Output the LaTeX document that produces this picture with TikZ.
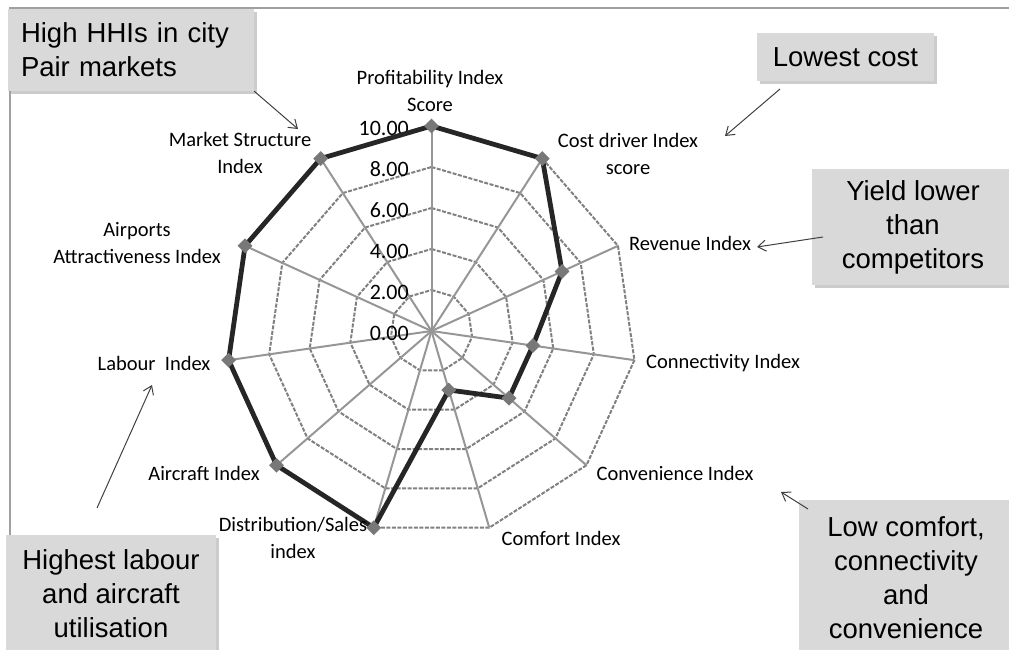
\documentclass[tikz,border=0pt]{standalone}
\usepackage{fontspec}
\setmainfont{Carlito}
\newfontfamily\arialf{Liberation Sans}
\usetikzlibrary{shapes.geometric,arrows.meta,shadows}
\definecolor{boxgray}{RGB}{217,217,217}
\definecolor{ringgray}{RGB}{128,128,128}
\definecolor{spokegray}{RGB}{150,150,150}
\definecolor{datadark}{RGB}{38,38,38}
\definecolor{markgray}{RGB}{120,120,120}
\definecolor{framegray}{RGB}{160,160,160}
\definecolor{arrowgray}{RGB}{64,64,64}
\begin{document}
\begin{tikzpicture}[x=1pt,y=-1pt,
  ringline/.style={draw=ringgray, line width=2pt, dash pattern=on 4pt off 1.5pt},
  spokeline/.style={draw=spokegray, line width=2pt},
  dataline/.style={draw=datadark, line width=4.8pt, line join=round},
  datamark/.style={diamond, fill=markgray, minimum size=15pt, inner sep=0pt},
  axlabel/.style={font=\fontsize{20.5}{27}\selectfont, align=center, inner sep=0pt},
  scalelabel/.style={font=\fontsize{22}{24}\selectfont, anchor=east, inner sep=0pt},
  callout/.style={fill=boxgray, font=\arialf\fontsize{27.5}{34}\selectfont, align=center, inner sep=0pt,
    drop shadow={shadow xshift=3pt,shadow yshift=-3pt,fill=black!40,opacity=0.5}},
  notearrow/.style={draw=arrowgray, line width=1pt, -{Straight Barb[length=8pt,width=11pt]}},
  chartframe/.style={draw=framegray, line width=2pt}
]
\useasboundingbox (0,0) rectangle (1009,650);
\def\cx{431.5}
\def\cy{331}
\def\R{205}

% chart frame
\draw[chartframe] (10,560) -- (10,8) -- (1012,8);

% grid rings
\foreach \r in {1,...,5}{
  \draw[ringline] ({\cx},{\cy-\r*41})
    \foreach \k in {1,...,10}{ -- ({\cx+\r*41*cos(90-\k*360/11)},{\cy-\r*41*sin(90-\k*360/11)}) } -- cycle;
}
% spokes
\foreach \k in {0,...,10}{
  \draw[spokeline] (\cx,\cy) -- ({\cx+\R*cos(90-\k*360/11)},{\cy-\R*sin(90-\k*360/11)});
}

% scale labels
\foreach \i [evaluate=\i as \val using int(2*\i)] in {0,...,5}{
  \node[scalelabel] (s\i) at (409,{\cy-\i*41+2}) {\val.00};
}

% data
\foreach \v [count=\k from 0] in {10,10,7,5,5,3,10,10,10,10,10}{
  \coordinate (c\k) at ({\cx+\v*20.5*cos(90-\k*360/11)},{\cy-\v*20.5*sin(90-\k*360/11)});
}
\draw[dataline] (c0) \foreach \k in {1,...,10}{ -- (c\k) } -- cycle;
\foreach \k in {0,...,10}{ \node[datamark] (m\k) at (c\k) {}; }

% axis labels
\node[axlabel] (lprof) at (430,90.5) {Profitability Index\\Score};
\node[axlabel] (lcost) at (628,153.5) {Cost driver Index\\score};
\node[axlabel] (lrev) at (690,243) {Revenue Index};
\node[axlabel] (lconn) at (723,363) {Connectivity Index};
\node[axlabel] (lconv) at (675,473) {Convenience Index};
\node[axlabel] (lcomf) at (561,538) {Comfort Index};
\node[axlabel] (ldist) at (293,537.5) {Distribution/Sales\\index};
\node[axlabel] (lair) at (204,473) {Aircraft Index};
\node[axlabel] (llab) at (154,363) {Labour\ \ Index};
\node[axlabel] (lport) at (137,243.5) {Airports\\Attractiveness Index};
\node[axlabel] (lmkt) at (240,153) {Market Structure\\Index};

% callouts
\node[callout, align=left, text width=220pt, inner xsep=13pt, minimum height=82pt] (b1) at (131,50) {High HHIs in city\\Pair markets};
\node[callout, minimum width=177pt, minimum height=48pt] (b2) at (845.5,57) {Lowest cost};
\node[callout, minimum width=202pt, minimum height=116pt] (b3) at (913,227) {Yield lower\\than\\competitors};
\node[callout, minimum width=214pt, minimum height=155pt] (b4) at (906,577.5) {Low comfort,\\connectivity\\and\\convenience};
\node[callout, minimum width=210pt, minimum height=118pt] (b5) at (111,594) {Highest labour\\and aircraft\\utilisation};

% arrows
\coordinate (t1) at (298,129);
\coordinate (s2) at (780,89);
\coordinate (t2) at (725,136);
\coordinate (s3) at (823,237);
\coordinate (t3) at (757,247);
\coordinate (s4) at (808,509);
\coordinate (t4) at (781,492);
\coordinate (s5) at (97,508);
\coordinate (t5) at (152,385);
\draw[notearrow] (b1.south east) -- (t1);
\draw[notearrow] (s2) -- (t2);
\draw[notearrow] (s3) -- (t3);
\draw[notearrow] (s4) -- (t4);
\draw[notearrow] (s5) -- (t5);
\end{tikzpicture}
\end{document}
